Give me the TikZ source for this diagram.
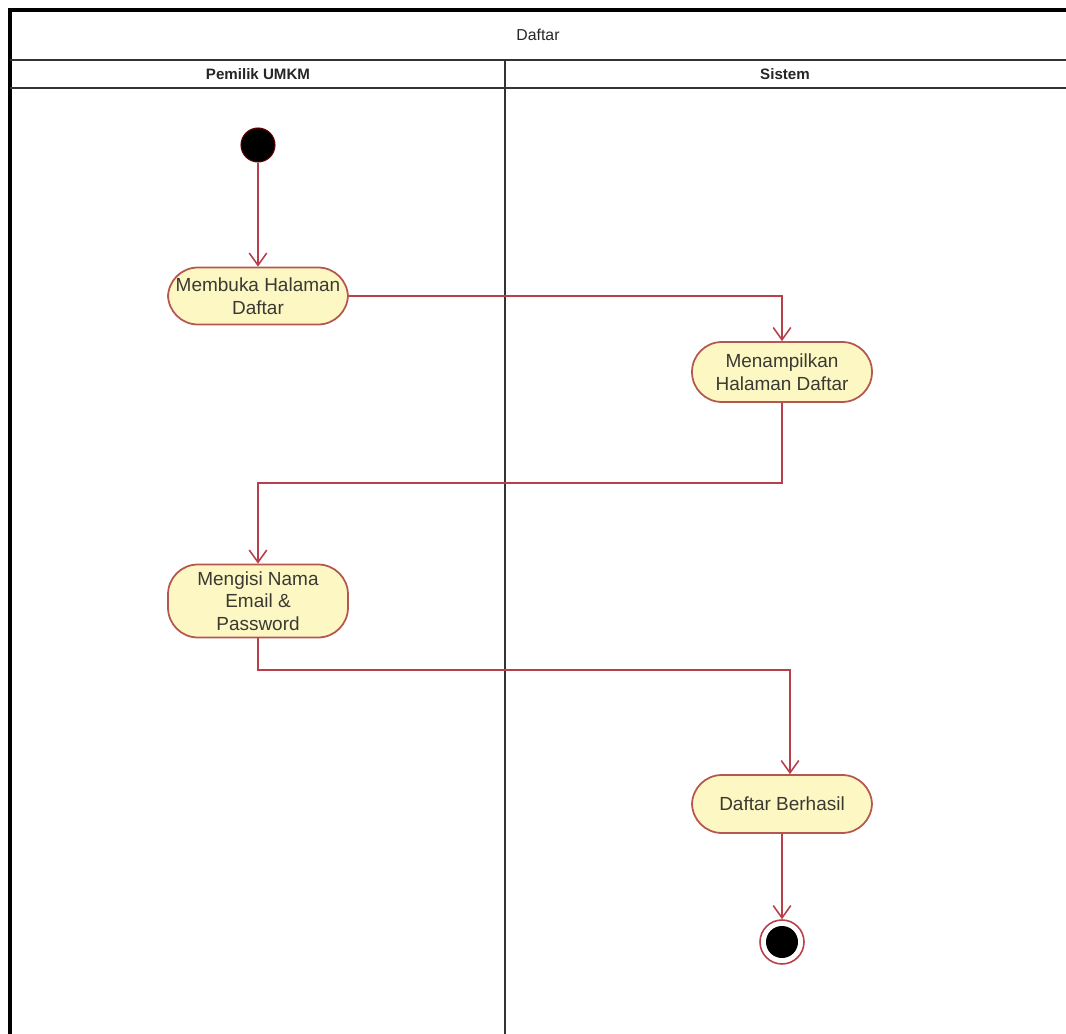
\documentclass[tikz,border=0pt]{standalone}
\usepackage{fontspec}
\setmainfont{Liberation Sans}
\usetikzlibrary{arrows.meta}
\definecolor{edgecol}{HTML}{B8404A}
\definecolor{boxfill}{HTML}{FDF7C3}
\definecolor{boxline}{HTML}{B5574F}
\definecolor{txtcol}{HTML}{3A3A32}
\tikzset{
  act/.style={draw=boxline, fill=boxfill, rounded corners=17pt, line width=1pt,
    minimum width=3.6cm, align=center, text=txtcol, font=\fontsize{10.8}{12.8}\selectfont, inner sep=2pt},
  flow/.style={draw=edgecol, line width=0.9pt, -{Straight Barb[length=7pt,width=10pt]}},
  lanehead/.style={font=\fontsize{8.6}{10}\selectfont\bfseries, text=black!85},
  frame/.style={draw=black, line width=1.8pt},
  inner/.style={draw=black!80, line width=0.9pt}
}
\begin{document}
\begin{tikzpicture}[x=0.02cm,y=-0.02cm]
\useasboundingbox (0,0) rectangle (1066,1034);
\fill[white] (0,0) rectangle (1066,1034);
% frame
\draw[frame] (10,1034) -- (10,10) -- (1066,10);
\draw[inner] (10,60) -- (1066,60);
\draw[inner] (10,88) -- (1066,88);
\draw[inner] (505,60) -- (505,1034);
\node[font=\fontsize{9}{10}\selectfont, text=black!85] (title) at (538,35) {Daftar};
\node[lanehead] (lane1) at (258,74) {Pemilik UMKM};
\node[lanehead] (lane2) at (785,74) {Sistem};
% nodes
\node[circle, fill=black, draw=black!60!red, line width=0.6pt, minimum size=34*0.02cm, inner sep=0pt] (start) at (258,145) {};
\node[act, minimum height=1.14cm] (a1) at (258,296) {Membuka Halaman\\Daftar};
\node[act, minimum height=1.2cm] (a2) at (782,372) {Menampilkan\\Halaman Daftar};
\node[act, minimum height=1.46cm] (a3) at (258,601) {Mengisi Nama\\Email \&\\Password};
\node[act, minimum height=1.16cm] (a4) at (782,804) {Daftar Berhasil};
\node[circle, draw=edgecol, fill=white, line width=0.9pt, minimum size=44*0.02cm, inner sep=0pt] (end) at (782,942) {};
\node[circle, fill=black, minimum size=32*0.02cm, inner sep=0pt] (endin) at (782,942) {};
% edges
\draw[flow] (start) -- (a1);
\draw[flow] (a1.east) -| (a2.north);
\draw[flow] (a2.south) |- (258,483) -- (a3.north);
\draw[flow] (a3.south) |- (790,670) -- ([xshift=8*0.02cm]a4.north);
\draw[flow] (a4) -- (end);
\end{tikzpicture}
\end{document}
